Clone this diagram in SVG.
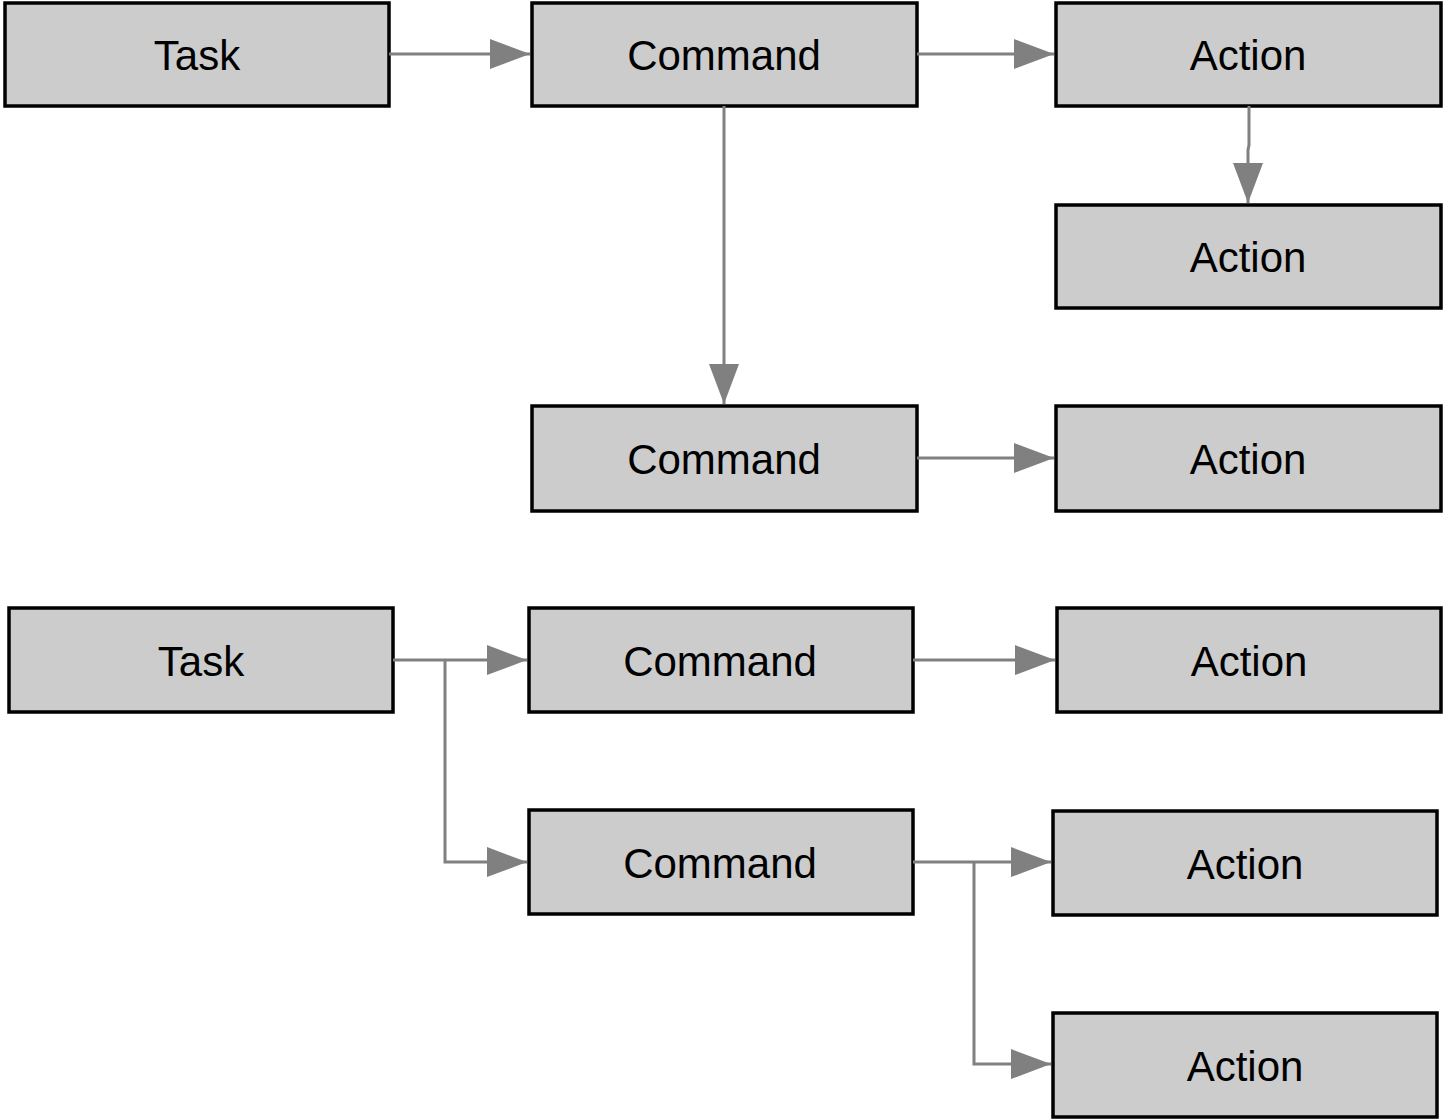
<svg xmlns="http://www.w3.org/2000/svg" width="1445" height="1120" viewBox="0 0 1445 1120">
<style>
.box{fill:#cccccc;stroke:#000;stroke-width:3.5}
.lbl{font-family:"Liberation Sans",Arial,sans-serif;font-size:42px;fill:#000;text-anchor:middle}
.c{fill:none;stroke:#808080;stroke-width:3}
</style>
<defs>
<marker id="ah" markerUnits="userSpaceOnUse" markerWidth="40" markerHeight="32" refX="40" refY="16" orient="auto" viewBox="0 0 40 32">
<path d="M0,1 L40,16 L0,31 Z" fill="#808080"/>
</marker>
</defs>
<rect width="1445" height="1120" fill="#fff"/>
<g id="task1"><rect class="box" x="5" y="3" width="384" height="103"/><text class="lbl" x="197" y="70">Task</text></g>
<g id="command1"><rect class="box" x="532" y="3" width="385" height="103"/><text class="lbl" x="724" y="70">Command</text></g>
<g id="action1"><rect class="box" x="1056" y="3" width="385" height="103"/><text class="lbl" x="1248" y="70">Action</text></g>
<g id="action2"><rect class="box" x="1056" y="205" width="385" height="103"/><text class="lbl" x="1248" y="272">Action</text></g>
<g id="command2"><rect class="box" x="532" y="406" width="385" height="105"/><text class="lbl" x="724" y="474">Command</text></g>
<g id="action3"><rect class="box" x="1056" y="406" width="385" height="105"/><text class="lbl" x="1248" y="474">Action</text></g>
<g id="task2"><rect class="box" x="9" y="608" width="384" height="104"/><text class="lbl" x="201" y="676">Task</text></g>
<g id="command3"><rect class="box" x="529" y="608" width="384" height="104"/><text class="lbl" x="720" y="676">Command</text></g>
<g id="action4"><rect class="box" x="1057" y="608" width="384" height="104"/><text class="lbl" x="1249" y="676">Action</text></g>
<g id="command4"><rect class="box" x="529" y="810" width="384" height="104"/><text class="lbl" x="720" y="878">Command</text></g>
<g id="action5"><rect class="box" x="1053" y="811" width="384" height="104"/><text class="lbl" x="1245" y="879">Action</text></g>
<g id="action6"><rect class="box" x="1053" y="1013" width="384" height="104"/><text class="lbl" x="1245" y="1081">Action</text></g>
<g id="connectors">
<path class="c" d="M389,54 H530" marker-end="url(#ah)"/>
<path class="c" d="M917,54 H1054" marker-end="url(#ah)"/>
<path class="c" d="M1249,106 V145 L1248,150 V203" marker-end="url(#ah)"/>
<path class="c" d="M724,106 V404" marker-end="url(#ah)"/>
<path class="c" d="M917,458 H1054" marker-end="url(#ah)"/>
<path class="c" d="M393,660 H527" marker-end="url(#ah)"/>
<path class="c" d="M445,660 V862 H527" marker-end="url(#ah)"/>
<path class="c" d="M913,660 H1055" marker-end="url(#ah)"/>
<path class="c" d="M913,862 H1051" marker-end="url(#ah)"/>
<path class="c" d="M974,862 V1064 H1051" marker-end="url(#ah)"/>
</g>
</svg>
